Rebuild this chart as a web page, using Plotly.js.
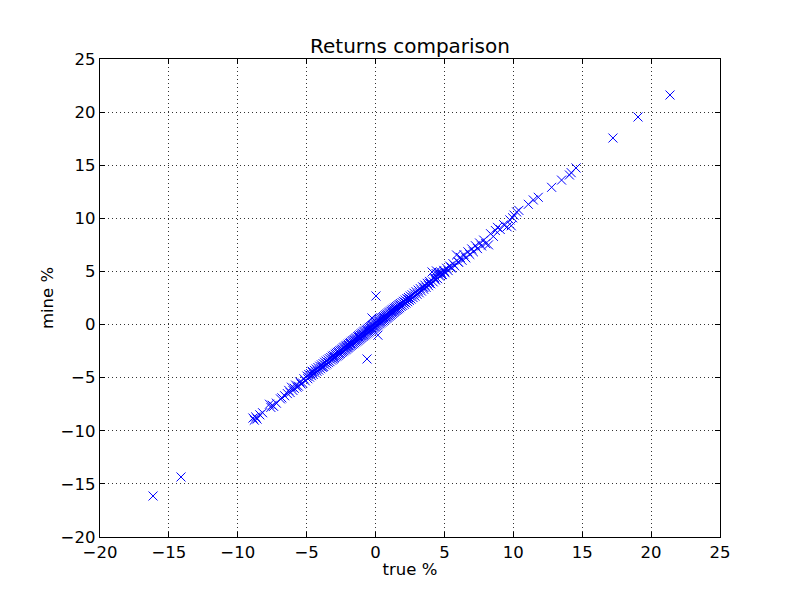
<!DOCTYPE html>
<html>
<head>
<meta charset="utf-8">
<script src="https://cdn.plot.ly/plotly-3.0.1.min.js"></script>
<style>html,body{margin:0;padding:0;background:#fff;}#chart{width:800px;height:597px;}</style>
</head>
<body>
<div id="chart"></div>
<script>
// Tail (-9 .. -5)
const trueTailLow = [-8.9,-8.8,-8.7,-8.6,-8.4,-8.2,-7.7,-7.6,-7.5,-7.4,-7.2,-6.9,-6.8,-6.6,-6.4,-6.3,-6.2,-6.1,-6.0,-5.9,-5.8,-5.7,-5.6,-5.5,-5.4,-5.3,-5.2,-5.1];
const mineTailLow = [-8.8,-9.0,-8.7,-8.9,-8.5,-8.3,-7.5,-7.8,-7.6,-7.7,-7.4,-7.0,-6.9,-6.7,-6.5,-6.2,-6.4,-5.9,-6.2,-6.0,-5.7,-5.9,-5.8,-5.4,-5.6,-5.5,-5.1,-5.3];
// -5 .. -3
const trueNeg5 = [-4.98,-4.92,-4.85,-4.79,-4.71,-4.66,-4.58,-4.52,-4.44,-4.37,-4.31,-4.25,-4.18,-4.12,-4.05,-3.99,-3.93,-3.88,-3.81,-3.76,-3.70,-3.64,-3.59,-3.53,-3.47,-3.42,-3.36,-3.31,-3.25,-3.19,-3.14,-3.09,-3.05,-3.02,-4.60,-3.85];
const mineNeg5 = [-4.85,-5.10,-4.70,-4.95,-4.62,-4.81,-4.49,-4.70,-4.31,-4.55,-4.18,-4.40,-4.05,-4.29,-3.92,-4.16,-3.80,-4.02,-3.68,-3.95,-3.55,-3.81,-3.44,-3.70,-3.33,-3.58,-3.21,-3.49,-3.10,-3.35,-2.98,-3.26,-2.90,-3.18,-4.40,-4.00];
// -3 .. 0
const trueNeg3 = [-2.97,-2.93,-2.88,-2.85,-2.80,-2.76,-2.71,-2.68,-2.63,-2.59,
  -2.55,-2.51,-2.46,-2.42,-2.38,-2.33,-2.29,-2.25,-2.20,-2.16,
  -2.12,-2.08,-2.03,-1.99,-1.95,-1.90,-1.86,-1.82,-1.77,-1.73,
  -1.69,-1.65,-1.60,-1.56,-1.52,-1.47,-1.43,-1.39,-1.34,-1.30,
  -1.26,-1.22,-1.17,-1.13,-1.09,-1.04,-1.00,-0.96,-0.91,-0.87,
  -0.83,-0.79,-0.74,-0.70,-0.66,-0.61,-0.57,-0.53,-0.48,-0.44,
  -0.40,-0.35,-0.31,-0.27,-0.22,-0.18,-0.14,-0.09,-0.05,-0.02,
  -2.70,-2.40,-2.10,-1.80,-1.50,-1.20,-0.90,-0.60,-0.30,-1.95,-1.05,-0.15];
const mineNeg3 = [-3.10,-2.80,-3.02,-2.71,-2.95,-2.62,-2.88,-2.55,-2.79,-2.47,
  -2.72,-2.41,-2.63,-2.30,-2.55,-2.19,-2.47,-2.12,-2.38,-2.02,
  -2.31,-1.95,-2.22,-1.85,-2.14,-1.76,-2.05,-1.68,-1.97,-1.58,
  -1.88,-1.50,-1.80,-1.41,-1.71,-1.33,-1.62,-1.25,-1.54,-1.14,
  -1.46,-1.05,-1.38,-0.97,-1.29,-0.88,-1.21,-0.80,-1.12,-0.70,
  -1.04,-0.62,-0.96,-0.53,-0.87,-0.45,-0.79,-0.36,-0.70,-0.27,
  -0.61,-0.19,-0.53,-0.10,-0.44,-0.02,-0.35,0.07,-0.27,0.15,
  -2.68,-2.38,-2.12,-1.79,-1.52,-1.18,-0.92,-0.58,-0.33,-1.97,-1.03,-0.14];
// 0 .. 3
const truePos0 = [0.02,0.06,0.10,0.15,0.19,0.23,0.28,0.32,0.36,0.41,
  0.45,0.49,0.54,0.58,0.62,0.67,0.71,0.75,0.80,0.84,
  0.88,0.93,0.97,1.01,1.06,1.10,1.14,1.19,1.23,1.27,
  1.32,1.36,1.40,1.45,1.49,1.53,1.58,1.62,1.66,1.71,
  1.75,1.80,1.86,1.92,1.97,2.03,2.09,2.15,2.21,2.27,
  2.33,2.39,2.45,2.52,2.58,2.65,2.72,2.79,2.86,2.94,
  0.30,0.60,0.90,1.20,1.50,1.80,2.10,2.40,0.75,1.35];
const minePos0 = [-0.18,0.25,-0.10,0.33,-0.02,0.41,0.07,0.50,0.15,0.58,
  0.24,0.66,0.33,0.75,0.42,0.83,0.51,0.92,0.60,1.01,
  0.69,1.10,0.78,1.18,0.87,1.27,0.96,1.36,1.05,1.44,
  1.14,1.53,1.23,1.62,1.32,1.70,1.41,1.79,1.50,1.88,
  1.59,1.98,1.70,2.08,1.80,2.19,1.91,2.31,2.03,2.43,
  2.15,2.55,2.28,2.68,2.40,2.80,2.54,2.95,2.68,3.09,
  0.31,0.62,0.88,1.21,1.49,1.82,2.11,2.38,0.74,1.37];
// 3 .. 7
const truePos3 = [3.01,3.09,3.17,3.25,3.33,3.42,3.50,3.58,3.67,3.75,
  3.84,3.92,4.01,4.10,4.18,4.27,4.35,4.42,4.50,4.58,
  4.66,4.75,4.85,4.95,5.05,5.16,5.27,5.38,5.50,5.62,
  5.75,5.88,6.02,6.15,6.28,6.42,6.55,6.70,6.84,6.98,
  4.4,4.6,4.8,3.5,3.9,4.3,5.0,5.5,6.0];
const minePos3 = [2.85,3.24,2.99,3.38,3.15,3.55,3.32,3.71,3.50,3.88,
  3.66,4.06,3.84,4.95,4.02,4.43,4.19,5.05,4.32,4.75,
  4.55,4.92,4.71,5.10,4.88,5.30,5.08,5.51,5.32,5.73,
  5.52,6.55,5.86,6.33,6.05,6.58,6.28,6.85,6.60,7.12,
  4.8,4.9,4.7,3.5,3.9,4.3,5.0,5.4,5.9];
// 7 .. 15
const truePos7 = [7.10,7.25,7.40,7.55,7.70,7.85,8.00,8.20,8.35,8.55,8.70,8.85,9.05,9.30,9.55,9.75,9.85,9.95,
  10.05,10.24,10.40,11.09,11.45,11.81,12.78,13.50,14.07,14.20,14.55];
const minePos7 = [6.85,7.42,7.15,7.68,7.40,7.95,7.62,7.50,8.55,8.30,8.85,9.15,8.95,9.40,9.20,9.85,9.30,10.05,
  10.30,10.60,10.75,11.32,11.73,11.98,12.92,13.60,14.08,14.30,14.74];
// Outliers
const trueOut = [-16.15,-14.12,17.23,19.05,21.37,0.03,-0.26,0.17,-0.62];
const mineOut = [-16.14,-14.35,17.56,19.54,21.61,2.69,0.62,-1.00,-3.24];

const xTicks = [-20,-15,-10,-5,0,5,10,15,20,25];
const yTicks = [-20,-15,-10,-5,0,5,10,15,20,25];

const trueAll = [].concat(trueTailLow, trueNeg5, trueNeg3, truePos0, truePos3, truePos7, trueOut);
const mineAll = [].concat(mineTailLow, mineNeg5, mineNeg3, minePos0, minePos3, minePos7, mineOut);

const font = 'DejaVu Sans, sans-serif';
const axisCommon = {
  showline: true, linecolor: 'black', linewidth: 1.3, mirror: 'ticks',
  ticks: 'inside', ticklen: 5, tickwidth: 1, tickcolor: 'black',
  showgrid: true, gridcolor: '#333', griddash: '1px,3px', gridwidth: 1,
  zeroline: false, tickfont: {family: font, size: 16.5, color: 'black'},
  tickmode: 'array'
};

const trace = {
  x: trueAll, y: mineAll, type: 'scatter', mode: 'markers',
  marker: {symbol: 'x-thin', size: 9, color: 'blue', line: {color: 'blue', width: 1}},
  hoverinfo: 'none'
};

const layout = {
  width: 800, height: 597,
  margin: {l: 100, r: 80, t: 59, b: 60},
  paper_bgcolor: 'white', plot_bgcolor: 'white',
  showlegend: false,
  title: {text: 'Returns comparison', font: {family: font, size: 20, color: 'black'},
    x: 0.5125, xanchor: 'center', yref: 'container', y: 1 - 46/597, yanchor: 'middle'},
  xaxis: Object.assign({}, axisCommon, {range: [-20, 25], tickvals: xTicks,
    title: {text: 'true %', font: {family: font, size: 16.5, color: 'black'}, standoff: 2}}),
  yaxis: Object.assign({}, axisCommon, {range: [-20, 25], tickvals: yTicks,
    title: {text: 'mine %', font: {family: font, size: 16.5, color: 'black'}, standoff: 2}})
};

Plotly.newPlot('chart', [trace], layout, {displayModeBar: false, staticPlot: true});
</script>
</body>
</html>
